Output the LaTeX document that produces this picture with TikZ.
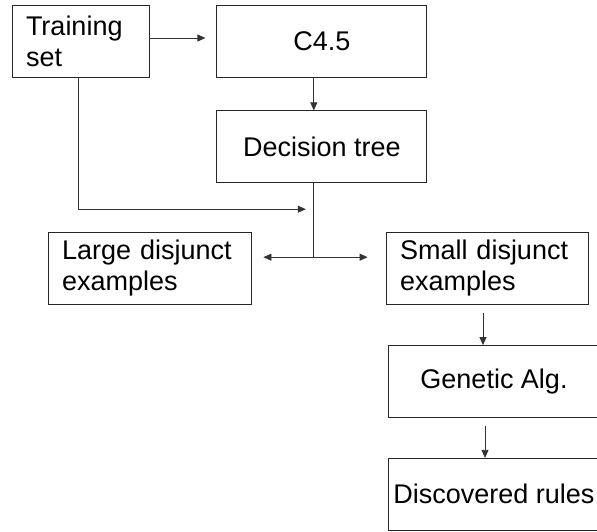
\documentclass[tikz,border=0pt]{standalone}
\usepackage{fontspec}
\setmainfont{Liberation Sans}
\usepackage{tikz}
\usetikzlibrary{positioning}
\usetikzlibrary{arrows.meta}

\begin{document}
\begin{tikzpicture}[
x=1pt, y=-1pt,
>={Triangle[length=8pt,width=7pt]},
box/.style={rectangle, draw=black!85, line width=0.8pt, minimum height=72pt, inner ysep=0pt, font=\fontsize{27}{31}\selectfont},
centerbox/.style={box, minimum width=#1, align=center},
leftbox/.style={box, inner xsep=14pt, text width=#1, align=left},
line/.style={draw=black!80, line width=0.8pt},
]
\useasboundingbox (0,0) rectangle (597,531);

%Nodes
\node[leftbox=109pt]     (train)   at (80.5,41)            {Training\\set};
\node[centerbox=210pt]   (c45)     [right=67pt of train]   {C4.5};
\node[centerbox=210pt]   (tree)    [below=33pt of c45]     {Decision tree};
\node[leftbox=175pt]     (large)   at (149.5,268)          {Large disjunct\\examples};
\node[leftbox=174pt]     (small)   at (487,268)            {Small disjunct\\examples};
\node[centerbox=212pt]   (ga)      at (494,381.5)          {Genetic Alg.};
\node[centerbox=212pt]   (rules)   [below=40pt of ga]      {Discovered rules};

\coordinate (merge) at ([xshift=-16pt,yshift=-26pt]tree.south);
\coordinate (split) at ([xshift=-8pt,yshift=-74pt]tree.south);

%Lines
\draw[line,->,shorten >=11pt] ([yshift=3pt]train.east) -- ([yshift=3pt]c45.west);
\draw[line,->] ([xshift=-8pt]c45.south) -- ([xshift=-8pt]tree.north);
\draw[line,->] ([xshift=-2.5pt]train.south) |- (merge);
\draw[line] ([xshift=-8pt]tree.south) -- (split);
\draw[line,<->,shorten <=12pt,shorten >=18pt] (split -| large.east) -- (split -| small.west);
\draw[line,->,shorten <=9pt] ([xshift=-4pt]small.south) -- ([xshift=-4pt]small.south |- ga.north);
\draw[line,->,shorten <=8pt] ([xshift=-9pt]ga.south) -- ([xshift=-9pt]rules.north);
\end{tikzpicture}
\end{document}
